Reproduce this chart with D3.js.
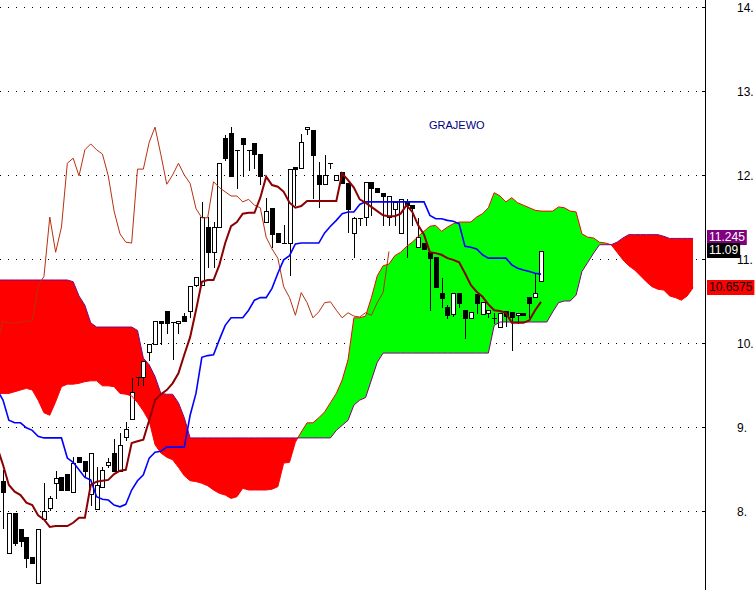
<!DOCTYPE html>
<html>
<head>
<meta charset="utf-8">
<script src="https://cdn.jsdelivr.net/npm/d3@7"></script>
<style>
  body { margin: 0; background: #fff; }
  svg { display: block; font-family: "Liberation Sans", Arial, sans-serif; }
</style>
</head>
<body>
<svg width="756" height="590"></svg>
<script>
const title = "GRAJEWO";

// daily candles, oldest first
const opens = [8.36,7.50,7.98,7.79,7.69,7.45,7.14,7.90,8.04,8.33,
  8.40,8.44,8.23,8.64,8.60,8.20,8.02,8.29,8.55,8.69,
  8.48,8.88,9.10,9.60,9.60,9.89,9.99,10.26,10.38,10.25,
  10.24,10.32,10.38,10.69,10.69,11.38,11.08,11.38,12.44,12.50,
  12.30,12.44,12.30,12.38,12.25,11.44,11.61,11.31,11.19,11.19,
  12.10,12.08,12.55,12.54,12.00,11.89,12.14,11.94,12.04,11.90,
  11.31,11.49,11.50,11.92,11.85,11.79,11.50,11.60,11.31,11.68,
  11.64,11.14,11.19,11.08,11.02,10.60,10.43,10.35,10.60,10.39,
  10.30,10.58,10.35,10.36,10.30,10.19,10.38,10.37,10.33,10.36,
  10.55,10.55,10.74];
const highs = [8.49,7.98,7.98,7.79,7.69,7.45,7.79,8.33,8.18,8.48,
  8.40,8.44,8.64,8.64,8.60,8.69,8.52,8.52,8.63,8.86,
  8.93,9.06,9.58,9.60,9.79,9.99,10.26,10.26,10.38,10.25,
  10.26,10.36,10.68,10.79,11.68,11.50,11.44,12.14,12.48,12.57,
  12.30,12.44,12.30,12.38,12.25,11.73,11.61,11.31,11.40,12.07,
  12.10,12.49,12.57,12.54,12.15,12.24,12.14,12.00,12.04,11.90,
  11.50,11.49,11.92,11.92,11.85,11.79,11.75,11.68,11.71,11.71,
  11.64,11.49,11.19,11.08,11.02,10.77,10.45,10.60,10.60,10.39,
  10.37,10.58,10.49,10.39,10.36,10.36,10.38,10.37,10.36,10.36,
  10.55,10.83,11.09];
const lows = [7.80,7.50,7.60,7.58,7.33,7.38,7.14,7.90,8.01,8.15,
  8.25,8.25,8.23,8.58,8.40,8.07,8.02,8.29,8.52,8.48,
  8.48,8.85,9.10,9.50,9.50,9.80,9.99,9.99,10.12,9.81,
  10.12,10.26,10.31,10.68,10.69,10.90,10.90,11.38,12.18,11.99,
  11.85,11.99,12.06,12.08,11.89,11.44,11.14,11.20,11.19,10.81,
  11.64,12.08,12.49,11.73,11.62,11.89,12.08,11.94,11.90,11.32,
  11.02,11.40,11.40,11.52,11.80,11.40,11.40,11.40,11.31,11.02,
  11.40,11.14,11.12,10.39,10.67,10.43,10.30,10.32,10.43,10.06,
  10.30,10.36,10.35,10.31,10.24,10.19,10.20,9.92,10.24,10.33,
  10.31,10.55,10.74];
const closes = [8.23,7.98,7.62,7.64,7.44,7.38,7.79,8.00,8.15,8.39,
  8.25,8.25,8.57,8.58,8.48,8.69,8.31,8.49,8.58,8.48,
  8.79,8.98,9.42,9.60,9.79,9.99,10.26,10.24,10.24,10.25,
  10.26,10.26,10.68,10.79,11.50,11.08,11.38,12.14,12.20,11.99,
  12.30,12.37,12.30,12.25,11.99,11.57,11.30,11.20,11.19,12.07,
  12.07,12.39,12.57,12.24,11.89,12.00,12.14,12.00,11.90,11.60,
  11.49,11.49,11.92,11.85,11.80,11.75,11.75,11.68,11.71,11.64,
  11.61,11.26,11.12,11.01,10.67,10.54,10.33,10.60,10.48,10.30,
  10.37,10.48,10.49,10.39,10.30,10.36,10.32,10.31,10.36,10.33,
  10.48,10.60,11.09];

// ichimoku lines, index -1 .. 92 (first value is the bar before the window)
const tenkan = [8.76,
  8.55,8.31,8.23,8.19,8.10,8.07,7.95,7.90,7.81,7.82,
  7.82,7.82,7.86,7.92,7.92,8.31,8.35,8.36,8.37,8.44,
  8.48,8.49,8.81,8.83,8.85,9.08,9.32,9.39,9.44,9.52,
  9.64,9.86,10.07,10.39,10.73,10.75,10.75,10.93,11.19,11.39,
  11.44,11.54,11.55,11.55,11.73,11.98,11.88,11.86,11.80,11.67,
  11.61,11.63,11.69,11.69,11.69,11.69,11.69,11.69,12.02,11.94,
  11.85,11.71,11.67,11.62,11.57,11.52,11.51,11.51,11.54,11.64,
  11.56,11.40,11.29,11.08,11.07,11.05,11.01,10.99,10.96,10.83,
  10.69,10.61,10.55,10.46,10.39,10.38,10.36,10.24,10.24,10.24,
  10.27,10.39,10.49];
const kijun = [9.44,
  9.32,9.08,9.05,9.05,8.99,8.96,8.89,8.87,8.87,8.87,
  8.87,8.63,8.58,8.49,8.40,8.37,8.17,8.14,8.13,8.07,
  8.05,8.08,8.25,8.36,8.43,8.63,8.70,8.71,8.76,8.76,
  8.76,8.76,9.14,9.40,9.83,9.85,9.86,10.04,10.21,10.30,
  10.30,10.30,10.39,10.51,10.54,10.54,10.65,10.83,10.99,11.04,
  11.18,11.19,11.19,11.19,11.19,11.31,11.39,11.46,11.54,11.56,
  11.56,11.65,11.68,11.68,11.68,11.68,11.68,11.68,11.68,11.68,
  11.68,11.68,11.68,11.52,11.48,11.48,11.46,11.45,11.42,11.15,
  11.14,11.12,11.05,11.01,11.01,11.01,11.01,10.93,10.89,10.87,
  10.85,10.83,10.82];

// cloud spans, index -1 .. 118 (26 bars past the last candle)
const senkouA = [9.40,
  9.40,9.40,9.42,9.44,9.46,9.44,9.32,9.17,9.14,9.30,
  9.48,9.51,9.51,9.52,9.54,9.55,9.55,9.49,9.49,9.48,
  9.40,9.39,9.37,9.29,9.19,9.07,8.79,8.69,8.64,8.61,
  8.52,8.42,8.36,8.35,8.33,8.30,8.25,8.21,8.19,8.15,
  8.17,8.27,8.25,8.25,8.25,8.25,8.26,8.29,8.57,8.58,
  8.82,8.94,9.05,9.05,9.11,9.18,9.29,9.40,9.56,9.80,
  10.30,10.30,10.32,10.54,10.80,10.92,10.94,11.04,11.08,11.15,
  11.20,11.27,11.33,11.39,11.40,11.33,11.38,11.42,11.44,11.44,
  11.44,11.50,11.54,11.61,11.79,11.75,11.68,11.73,11.67,11.64,
  11.61,11.58,11.57,11.57,11.57,11.62,11.61,11.57,11.56,11.30,
  11.26,11.25,11.20,11.19,11.17,11.08,10.99,10.92,10.87,10.80,
  10.73,10.67,10.64,10.63,10.56,10.54,10.51,10.56,10.6575];
const senkouB = [10.75,
  10.75,10.75,10.75,10.75,10.75,10.75,10.75,10.75,10.75,10.75,
  10.75,10.75,10.73,10.56,10.45,10.24,10.19,10.19,10.19,10.19,
  10.19,10.19,10.19,10.15,9.82,9.74,9.60,9.40,9.39,9.39,
  9.29,9.11,8.87,8.87,8.87,8.87,8.87,8.87,8.87,8.87,
  8.87,8.87,8.87,8.87,8.87,8.87,8.87,8.87,8.87,8.87,
  8.87,8.87,8.87,8.87,8.87,8.87,8.87,8.96,9.02,9.08,
  9.26,9.32,9.35,9.56,9.77,9.88,9.88,9.88,9.88,9.88,
  9.88,9.88,9.88,9.88,9.88,9.88,9.88,9.88,9.88,9.88,
  9.88,9.88,9.88,9.88,10.21,10.25,10.25,10.25,10.25,10.25,
  10.25,10.25,10.25,10.25,10.37,10.48,10.50,10.50,10.57,10.85,
  10.96,11.07,11.17,11.17,11.17,11.20,11.25,11.29,11.29,11.29,
  11.29,11.29,11.29,11.27,11.245,11.245,11.245,11.245,11.245];

const priceTicks = [8, 9, 10, 11, 12, 13, 14];
const lagShift = 26;

// last values shown on the price axis
const markValues = [11.245, 11.09, 10.6575];
const markTexts = ["11.245", "11.09", "10.6575"];

const W = 756, H = 590, plotRight = 705;
const svg = d3.select("svg");

const x = d3.scaleLinear().domain([0, closes.length - 1]).range([3, 541]);
const y = d3.scaleLinear().domain([8, 14]).range([511, 7]);
const px = (v) => Math.round(x(v));
const py = (v) => Math.round(y(v));

const defs = svg.append("defs");
defs.append("clipPath").attr("id", "plot")
  .append("rect").attr("width", plotRight).attr("height", H);

const cloud = senkouA.map((a, k) => ({ i: k - 1, a, b: senkouB[k] }));

defs.append("clipPath").attr("id", "aboveB")
  .append("path")
  .attr("d", d3.area().x((d) => x(d.i)).y0(0).y1((d) => y(d.b))(cloud));
defs.append("clipPath").attr("id", "belowB")
  .append("path")
  .attr("d", d3.area().x((d) => x(d.i)).y0((d) => y(d.b)).y1(H)(cloud));

// dotted price grid
svg.append("g")
  .selectAll("line")
  .data(priceTicks)
  .join("line")
  .attr("x1", 0)
  .attr("x2", plotRight)
  .attr("y1", (d) => py(d) + 0.5)
  .attr("y2", (d) => py(d) + 0.5)
  .style("stroke", "#000")
  .style("stroke-dasharray", "1,7");

const plot = svg.append("g").attr("clip-path", "url(#plot)");

// kumo
const kumo = d3.area().x((d) => x(d.i)).y0((d) => y(d.a)).y1((d) => y(d.b));
plot.append("path").attr("d", kumo(cloud))
  .attr("clip-path", "url(#aboveB)").style("fill", "#00ff00");
plot.append("path").attr("d", kumo(cloud))
  .attr("clip-path", "url(#belowB)").style("fill", "#ff0000");

// candles
const candles = closes.map((c, i) => ({ i, o: opens[i], h: highs[i], l: lows[i], c }));
const cg = plot.append("g");
cg.selectAll("line")
  .data(candles)
  .join("line")
  .attr("x1", (d) => px(d.i) + 0.5)
  .attr("x2", (d) => px(d.i) + 0.5)
  .attr("y1", (d) => py(d.h))
  .attr("y2", (d) => py(d.l) + 1)
  .style("stroke", "#000");

cg.selectAll("rect")
  .data(candles.filter((d) => py(d.o) !== py(d.c)))
  .join("rect")
  .attr("x", (d) => px(d.i) - 1.5)
  .attr("width", 4)
  .attr("y", (d) => Math.min(py(d.o), py(d.c)) + 0.5)
  .attr("height", (d) => Math.abs(py(d.o) - py(d.c)))
  .style("fill", (d) => (d.c >= d.o ? "#fff" : "#000"))
  .style("stroke", "#000");

cg.selectAll("line.doji")
  .data(candles.filter((d) => py(d.o) === py(d.c)))
  .join("line")
  .attr("class", "doji")
  .attr("x1", (d) => px(d.i) - 2)
  .attr("x2", (d) => px(d.i) + 3)
  .attr("y1", (d) => py(d.c) + 0.5)
  .attr("y2", (d) => py(d.c) + 0.5)
  .style("stroke", "#000");

// indicator lines
function drawLine(data, color, width) {
  plot.append("path")
    .attr("d", d3.line().x((d) => x(d.i)).y((d) => y(d.v))(data))
    .style("fill", "none")
    .style("stroke", color)
    .style("stroke-width", width);
}

drawLine(cloud.map((d) => ({ i: d.i, v: d.a })), "#ff0000", 1);
drawLine(cloud.map((d) => ({ i: d.i, v: d.b })), "#800080", 1);

const chikou = d3.range(-1, closes.length - lagShift)
  .map((i) => ({ i, v: closes[i + lagShift] }));
drawLine(chikou, "#b83010", 1);
drawLine(kijun.map((v, k) => ({ i: k - 1, v })), "#0000ff", 1.6);
drawLine(tenkan.map((v, k) => ({ i: k - 1, v })), "#8b0000", 2);

svg.append("text")
  .attr("x", 429)
  .attr("y", 129)
  .style("font-size", "11px")
  .style("fill", "#000080")
  .text(title);

// price axis
const axis = svg.append("g");
axis.append("line")
  .attr("x1", plotRight + 0.5).attr("x2", plotRight + 0.5)
  .attr("y1", 0).attr("y2", H)
  .style("stroke", "#000");
axis.selectAll("line.tick")
  .data(priceTicks)
  .join("line")
  .attr("class", "tick")
  .attr("x1", plotRight - 3).attr("x2", plotRight)
  .attr("y1", (d) => py(d) + 0.5).attr("y2", (d) => py(d) + 0.5)
  .style("stroke", "#000");
axis.selectAll("text")
  .data(priceTicks)
  .join("text")
  .attr("x", 737)
  .attr("y", (d) => py(d) + 5)
  .style("font-size", "12px")
  .text((d) => d + ".");

const markFill = ["#800080", "#000000", "#ff0000"];
const markInk = ["#fff", "#fff", "#000"];
const marks = axis.selectAll("g.mark")
  .data(markValues)
  .join("g")
  .attr("class", "mark")
  .attr("transform", (d) => `translate(${plotRight + 2},${py(d) - 8})`);
marks.append("text")
  .attr("x", 2)
  .attr("y", 11)
  .style("font-size", "12px")
  .style("fill", (d, i) => markInk[i])
  .text((d, i) => markTexts[i]);
marks.each(function (d, i) {
  const g = d3.select(this);
  const w = g.select("text").node().getComputedTextLength();
  g.insert("rect", "text")
    .attr("width", w + 4)
    .attr("height", 15)
    .style("fill", markFill[i]);
});
</script>
</body>
</html>
